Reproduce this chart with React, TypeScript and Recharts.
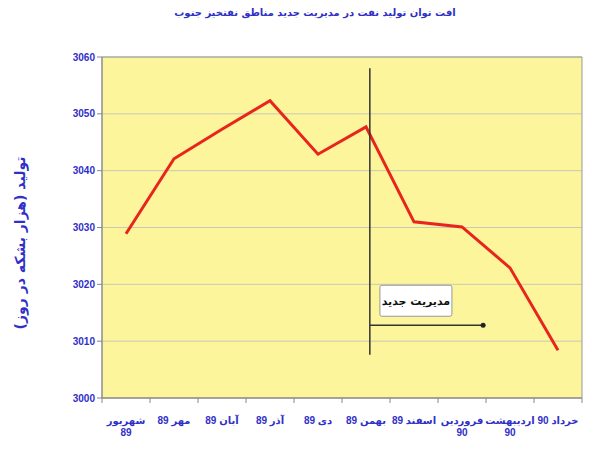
import React from "react";
import {
  LineChart, Line, XAxis, YAxis, CartesianGrid, ReferenceLine,
  ReferenceDot, ReferenceArea,
} from "recharts";

// months (Persian calendar) and oil production, thousand barrels/day
const months = [
  "شهریور 89", "مهر 89", "آبان 89", "آذر 89", "دی 89",
  "بهمن 89", "اسفند 89", "فروردین 90", "اردیبهشت 90", "خرداد 90",
];
const production = [3028.9, 3042.1, 3047.3, 3052.3, 3042.9, 3047.7, 3031.0, 3030.1, 3022.9, 3008.4];
const yTicks = [3000, 3010, 3020, 3030, 3040, 3050, 3060];
const xBounds = [-0.5, 0.5, 1.5, 2.5, 3.5, 4.5, 5.5, 6.5, 7.5, 8.5, 9.5];

const title = "افت توان تولید نفت در مدیریت جدید مناطق نفتخیز جنوب";
const yTitle = "تولید (هزار بشکه در روز)";
const noteText = "مدیریت جدید";

const data = production.map((v, i) => ({ i, value: v }));

const BLUE = "#3030c8";
const FONT = "'Liberation Sans', 'DejaVu Sans', sans-serif";
const BAND = 48;

const MonthTick = ({ x, y, payload }: any) => {
  const idx = Math.round(payload.value + 0.5);
  if (idx < 0 || idx >= months.length) return null;
  const [word, num] = months[idx].split(" ");
  const wrap = word.length >= 6;
  return (
    <g transform={`translate(${x + BAND / 2},${y})`}>
      <text
        x={0} y={0} dy={19} textAnchor="middle" direction="rtl"
        fontSize={10} fontWeight={700} fill={BLUE} fontFamily={FONT}
      >
        {wrap ? word : months[idx]}
      </text>
      {wrap && (
        <text x={0} y={0} dy={31} textAnchor="middle"
          fontSize={10} fontWeight={700} fill={BLUE} fontFamily={FONT}>
          {num}
        </text>
      )}
    </g>
  );
};

const NoteBox = ({ cx, cy }: any) => (
  <g>
    <rect x={cx - 36} y={cy - 15} width={72} height={31} fill="#fff" stroke="#999" strokeWidth={1} rx={2} />
    <text x={cx} y={cy + 5} textAnchor="middle" direction="rtl" fontSize={11}
      fontWeight={700} fill="#111" fontFamily="'DejaVu Sans', sans-serif">
      {noteText}
    </text>
  </g>
);

export default function App() {
  return (
    <div style={{ position: "absolute", left: 0, top: 0, width: 600, height: 449, background: "#fff" }}>
      <div style={{
        position: "absolute", left: 0, top: 7, width: 630, textAlign: "center",
        direction: "rtl", color: BLUE, fontWeight: 700, fontSize: 10,
        fontFamily: "'DejaVu Sans', sans-serif",
      }}>
        {title}
      </div>
      <div style={{
        position: "absolute", left: 20, top: 243, transform: "translate(-50%, -50%) rotate(-90deg)",
        whiteSpace: "nowrap", direction: "rtl", color: BLUE, fontWeight: 700, fontSize: 14,
        fontFamily: "'DejaVu Sans', sans-serif",
      }}>
        {yTitle}
      </div>
      <LineChart
        width={600}
        height={449}
        data={data}
        margin={{ top: 57, right: 18, bottom: 11, left: 0 }}
      >
        <CartesianGrid vertical={false} fill="#fcf59c" stroke="#c8c8b4" />
        <XAxis
          type="number"
          dataKey="i"
          domain={[-0.5, 9.5]}
          ticks={xBounds}
          interval={0}
          height={40}
          tick={<MonthTick />}
          tickLine={{ stroke: "#888" }}
          axisLine={{ stroke: "#888" }}
          tickSize={5}
        />
        <YAxis
          domain={[3000, 3060]}
          ticks={yTicks}
          width={102}
          interval={0}
          tick={{ fontSize: 10, fontWeight: 700, fill: BLUE, fontFamily: FONT }}
          tickLine={{ stroke: "#888" }}
          axisLine={{ stroke: "#888" }}
          tickSize={5}
        />
        <ReferenceArea x1={-0.5} x2={9.5} y1={3000} y2={3060} fill="none" fillOpacity={0} stroke="#999" />
        <Line
          type="linear"
          dataKey="value"
          stroke="#e8251c"
          strokeWidth={3}
          dot={false}
          isAnimationActive={false}
        />
        <ReferenceLine
          segment={[{ x: 5.08, y: 3058 }, { x: 5.08, y: 3007.6 }]}
          stroke="#333"
          strokeWidth={1.5}
        />
        <ReferenceLine
          segment={[{ x: 5.08, y: 3012.8 }, { x: 7.44, y: 3012.8 }]}
          stroke="#333"
          strokeWidth={1.5}
        />
        <ReferenceDot x={7.44} y={3012.8} r={2.5} fill="#222" stroke="none" />
        <ReferenceDot x={6.04} y={3017.2} r={0} shape={<NoteBox />} />
      </LineChart>
    </div>
  );
}
